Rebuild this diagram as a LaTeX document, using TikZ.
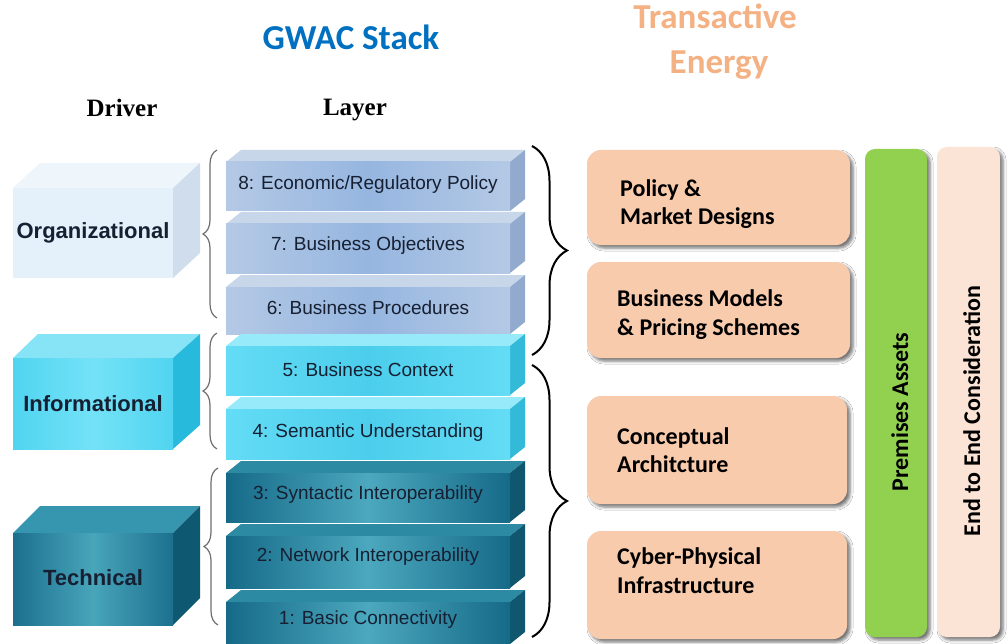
\documentclass[tikz,border=0pt]{standalone}
\usepackage{fontspec}
\newfontfamily\calf{Carlito}
\newfontfamily\arf{Liberation Sans}
\newfontfamily\tmf{Liberation Serif}
\usetikzlibrary{decorations.pathreplacing,shadows.blur}
\definecolor{gwacblue}{RGB}{0,112,192}
\definecolor{teorange}{RGB}{244,177,131}
\definecolor{boxorange}{RGB}{248,203,173}
\definecolor{bargreen}{RGB}{146,208,80}
\definecolor{barpeach}{RGB}{251,228,213}
\definecolor{orgfront}{RGB}{180,201,229}
\definecolor{orgmid}{RGB}{150,182,224}
\definecolor{orgtop}{RGB}{200,214,234}
\definecolor{orgside}{RGB}{145,170,205}
\definecolor{infofront}{RGB}{100,220,245}
\definecolor{infomid}{RGB}{75,206,236}
\definecolor{infotop}{RGB}{150,234,250}
\definecolor{infoside}{RGB}{50,186,216}
\definecolor{techfront}{RGB}{22,106,136}
\definecolor{techmid}{RGB}{75,168,190}
\definecolor{techtop}{RGB}{45,138,163}
\definecolor{techside}{RGB}{15,86,110}
\definecolor{dorgfront}{RGB}{228,240,250}
\definecolor{dorgtop}{RGB}{238,246,252}
\definecolor{dorgside}{RGB}{208,221,236}
\definecolor{dinfofront}{RGB}{80,212,240}
\definecolor{dinfomid}{RGB}{115,226,247}
\definecolor{dinfotop}{RGB}{135,228,246}
\definecolor{dinfoside}{RGB}{40,186,220}
\definecolor{dtechfront}{RGB}{28,112,142}
\definecolor{dtechmid}{RGB}{72,165,186}
\definecolor{dtechtop}{RGB}{55,150,175}
\definecolor{dtechside}{RGB}{15,88,113}
\definecolor{labtext}{RGB}{22,32,50}
\definecolor{bracegray}{RGB}{110,110,110}
\newcommand\slabdraw[8]{%
  \fill[#5] (226,#2+12) -- (241,#2) -- (525,#2) -- (510,#2+12) -- cycle;
  \fill[#6] (510,#2+12) -- (525,#2) -- (525,#3-12) -- (510,#3) -- cycle;
  \path[#4] (226,#2+12) rectangle (510,#3);
  \node[layertext] (#1) at (368,#8) {#7};
}
\begin{document}
\begin{tikzpicture}[x=1pt,y=-1pt,
  layertext/.style={font=\arf\fontsize{19}{22}\selectfont, text=labtext, inner sep=0pt},
  drivertext/.style={font=\arf\bfseries\fontsize{22}{26}\selectfont, text=labtext, inner sep=0pt},
  headtext/.style={font=\tmf\bfseries\fontsize{25}{28}\selectfont, anchor=base, inner sep=0pt},
  boxtext/.style={font=\calf\bfseries\fontsize{24}{28}\selectfont, anchor=base west, inner sep=0pt},
  orgf/.style={left color=orgfront, right color=orgfront, middle color=orgmid},
  infof/.style={left color=infofront, right color=infofront, middle color=infomid},
  techf/.style={left color=techfront, right color=techfront, middle color=techmid},
  graybrace/.style={draw=bracegray, line width=1.2pt, decorate, decoration={brace, amplitude=14pt}},
  blackbrace/.style={draw=black, line width=2pt, decorate, decoration={brace, amplitude=35pt}},
  obox/.style={fill=boxorange, rounded corners=14pt, inner sep=0pt,
     blur shadow={shadow xshift=3pt, shadow yshift=-3pt, shadow blur radius=3pt, shadow opacity=55}},
  bar/.style={rounded corners=10pt, inner sep=0pt,
     blur shadow={shadow xshift=3pt, shadow yshift=-3pt, shadow blur radius=3pt, shadow opacity=55}},
  bartext/.style={font=\calf\bfseries\fontsize{24}{28}\selectfont, rotate=90, anchor=base, inner sep=0pt}
]
\useasboundingbox (0,0) rectangle (1008,644);
\fill[white] (0,0) rectangle (1008,644);

% titles
\node[font=\calf\bfseries\fontsize{35}{40}\selectfont, text=gwacblue, anchor=base, inner sep=0pt] (gwac) at (351,50) {GWAC Stack};
\node[font=\calf\bfseries\fontsize{35}{40}\selectfont, text=teorange, anchor=base, inner sep=0pt] (trans1) at (715,29) {Transactive};
\node[font=\calf\bfseries\fontsize{35}{40}\selectfont, text=teorange, anchor=base, inner sep=0pt] (trans2) at (719,74) {Energy};
\node[headtext] (driverhead) at (122,117) {Driver};
\node[headtext] (layerhead) at (355,116) {Layer};

% driver boxes
\fill[dorgtop] (13,188) -- (40,163) -- (200,163) -- (173,188) -- cycle;
\fill[dorgside] (173,188) -- (200,163) -- (200,253) -- (173,278) -- cycle;
\fill[dorgfront] (13,188) rectangle (173,278);
\node[drivertext] (org) at (93,233) {Organizational};

\fill[dinfotop] (13,358) -- (38,334) -- (200,334) -- (173,358) -- cycle;
\fill[dinfoside] (173,358) -- (200,334) -- (200,425) -- (173,449) -- cycle;
\path[left color=dinfofront, right color=dinfofront, middle color=dinfomid] (13,358) rectangle (173,449);
\node[drivertext] (info) at (93,404) {Informational};

\fill[dtechtop] (13,533) -- (40,506) -- (200,506) -- (173,533) -- cycle;
\fill[dtechside] (173,533) -- (200,506) -- (200,598) -- (173,625) -- cycle;
\path[left color=dtechfront, right color=dtechfront, middle color=dtechmid] (13,533) rectangle (173,625);
\node[drivertext] (tech) at (93,578) {Technical};

% gray braces
\draw[graybrace] (217,318) -- (217,150);
\draw[graybrace] (217,449) -- (217,333);
\draw[graybrace] (218,625) -- (218,468);

% slabs
\slabdraw{l8}{150}{211}{orgf}{orgtop}{orgside}{8: Economic/Regulatory Policy}{185}
\slabdraw{l7}{212}{273}{orgf}{orgtop}{orgside}{7: Business Objectives}{246}
\slabdraw{l6}{275}{334}{orgf}{orgtop}{orgside}{6: Business Procedures}{308}
\slabdraw{l5}{334}{395}{infof}{infotop}{infoside}{5: Business Context}{370}
\slabdraw{l4}{397}{459}{infof}{infotop}{infoside}{4: Semantic Understanding}{433}
\slabdraw{l3}{461}{522}{techf}{techtop}{techside}{3: Syntactic Interoperability}{495}
\slabdraw{l2}{524}{588}{techf}{techtop}{techside}{2: Network Interoperability}{557}
\slabdraw{l1}{590}{644}{techf}{techtop}{techside}{1: Basic Connectivity}{620}

% black braces
\draw[blackbrace] (532,146) -- (532,355);
\draw[blackbrace] (532,365) -- (532,637);

% orange boxes
\node[obox, minimum width=263pt, minimum height=95pt] (b1) at (718.5,197.5) {};
\node[obox, minimum width=263pt, minimum height=96pt] (b2) at (718.5,310) {};
\node[obox, minimum width=260pt, minimum height=108pt] (b3) at (717,450) {};
\node[obox, minimum width=260pt, minimum height=108pt] (b4) at (717,585) {};
\node[boxtext] (b1a) at (620,197) {Policy \&};
\node[boxtext] (b1b) at (620,225) {Market Designs};
\node[boxtext] (b2a) at (617,306) {Business Models};
\node[boxtext] (b2b) at (617,335) {\& Pricing Schemes};
\node[boxtext] (b3a) at (617,444) {Conceptual};
\node[boxtext] (b3b) at (617,472) {Architcture};
\node[boxtext] (b4a) at (617,564) {Cyber-Physical};
\node[boxtext] (b4b) at (617,593) {Infrastructure};

% vertical bars
\node[bar, fill=bargreen, minimum width=62pt, minimum height=488pt] (greenbar) at (896,393) {};
\node[bar, fill=barpeach, minimum width=63pt, minimum height=490pt] (peachbar) at (968.5,392) {};
\node[bartext] (prem) at (908,412) {Premises Assets};
\node[bartext] (e2e) at (980,411) {End to End Consideration};
\end{tikzpicture}
\end{document}
